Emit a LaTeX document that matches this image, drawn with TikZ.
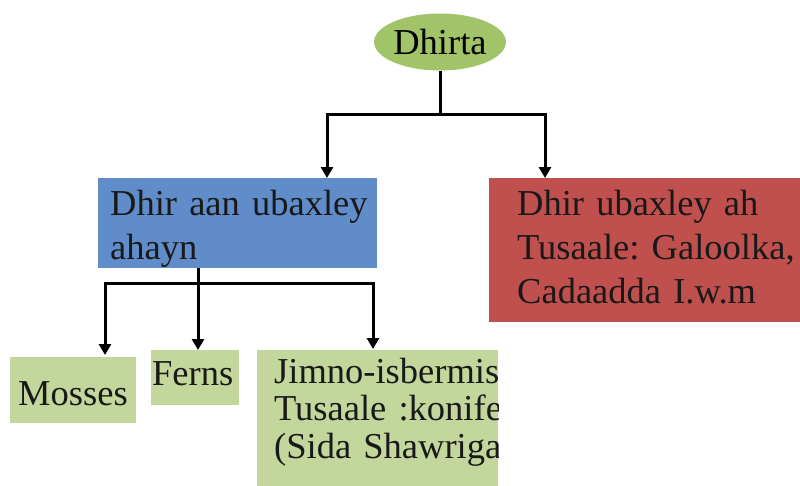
\documentclass[tikz,border=0pt]{standalone}
\usepackage{fontspec}
\setmainfont{Liberation Serif}
\usetikzlibrary{arrows.meta,shapes.geometric}
\definecolor{rootgreen}{RGB}{161,196,104}
\definecolor{leafgreen}{RGB}{195,214,155}
\definecolor{boxblue}{RGB}{96,141,201}
\definecolor{boxred}{RGB}{192,80,77}
\tikzset{
  box/.style={fill=#1, draw=none, inner sep=0pt, anchor=north west},
  txt/.style={inner sep=0pt, anchor=base west, align=left, text width=#1,
    font=\fontsize{36.5}{44}\selectfont\frenchspacing, text=black!90},
  conn/.style={line width=3pt, draw=black},
  arr/.style={conn, -{Triangle[width=12pt,length=11pt]}},
}
\begin{document}
\begin{tikzpicture}[x=1pt,y=-1pt]
\useasboundingbox (0,0) rectangle (800,485);
% root
\node[ellipse, fill=rootgreen, minimum width=128pt, minimum height=57pt, inner sep=0pt,
  font=\fontsize{36.5}{44}\selectfont] (root) at (440,42) {Dhirta};
% boxes
\path (98,178) node[box=boxblue, minimum width=279pt, minimum height=90pt] (blue) {};
\path (489,178) node[box=boxred, minimum width=311pt, minimum height=144pt] (red) {};
\path (10,357) node[box=leafgreen, minimum width=126pt, minimum height=66pt] (moss) {};
\path (151,350) node[box=leafgreen, minimum width=88pt, minimum height=55pt] (fern) {};
\path (257,350) node[box=leafgreen, minimum width=241pt, minimum height=140pt] (jimno) {};
% texts
\node[txt=270pt] (bluetxt) at (110,215) {Dhir aan ubaxley\\ahayn};
\node[txt=290pt] (redtxt) at (517,215) {Dhir ubaxley ah\\Tusaale: Galoolka,\\Cadaadda I.w.m};
\node[txt=120pt] (mosstxt) at (18,405) {Mosses};
\node[txt=85pt] (ferntxt) at (152,385) {Ferns};
\begin{scope}
\clip (jimno.north west) rectangle (jimno.south east);
\node[txt=240pt, font=\fontsize{36.5}{37.5}\selectfont\frenchspacing] (jimnotxt) at (274,383) {Jimno-isbermis\\Tusaale :konifer\\(Sida Shawriga};
\end{scope}
% connector points
\coordinate (j1) at (440,114);
\coordinate (bluetop) at (327,178);
\coordinate (redtop) at (545,178);
\coordinate (bluebot) at (198,268);
\coordinate (j2) at (198,283);
\coordinate (mosstop) at (105,355);
\coordinate (ferntop) at (198,350);
\coordinate (jimnotop) at (373,349);
% connectors
\draw[conn] (root.south) -- (j1);
\draw[arr] (j1) -| (bluetop);
\draw[arr] (j1) -| (redtop);
\draw[conn] (bluebot) -- (j2);
\draw[arr] (j2) -| (mosstop);
\draw[arr] (j2) -- (ferntop);
\draw[arr] (j2) -| (jimnotop);
\end{tikzpicture}
\end{document}
